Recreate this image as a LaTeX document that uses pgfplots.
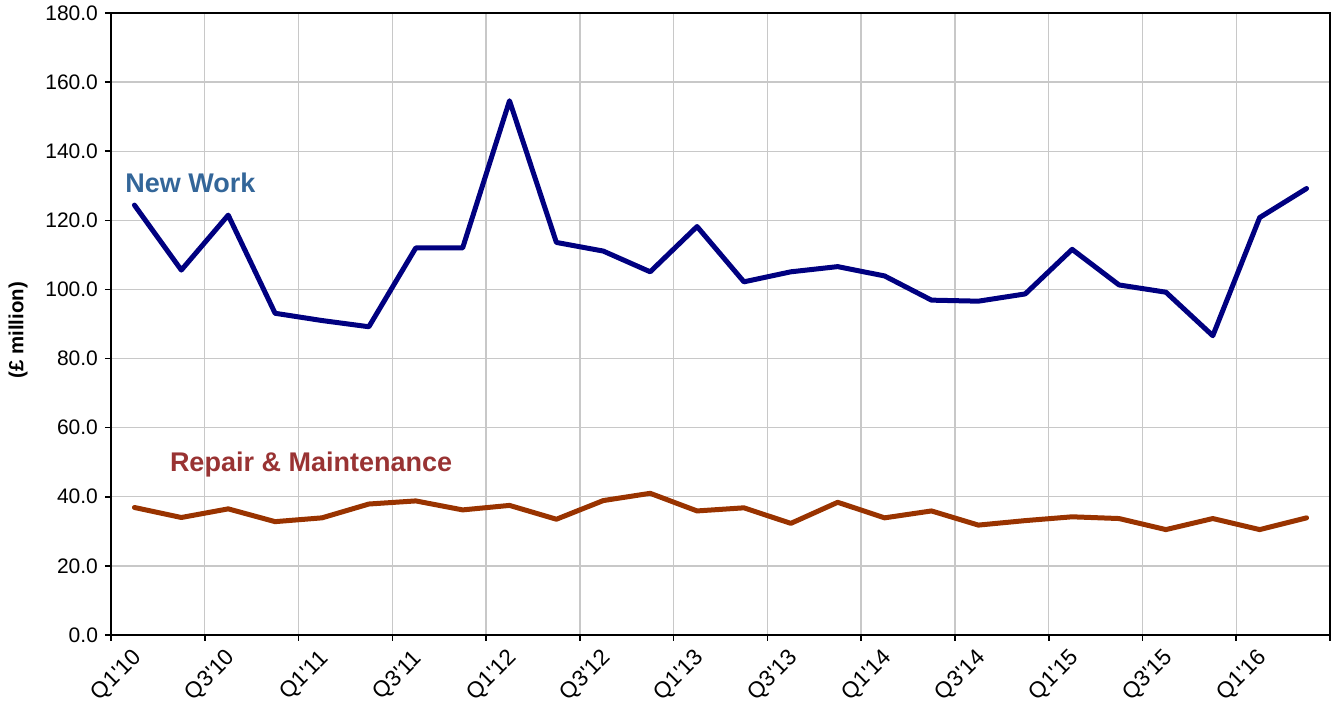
\documentclass[border=0pt]{standalone}
\usepackage{fontspec}
\setmainfont{Liberation Sans}
\newfontfamily\plainfont{Liberation Sans}
\usepackage{pgfplots}
\pgfplotsset{compat=1.18}
\definecolor{nwline}{HTML}{000080}
\definecolor{rmline}{HTML}{993300}
\definecolor{nwtext}{HTML}{336699}
\definecolor{rmtext}{HTML}{993333}
\definecolor{gridc}{HTML}{C8C8C8}
\begin{document}
\begin{tikzpicture}
\begin{axis}[
  name=ax,
  scale only axis,
  width=609.5pt, height=311pt,
  xmin=0, xmax=26, ymin=0, ymax=180,
  xtick={0,2,...,26},
  xticklabels={Q1'10,Q3'10,Q1'11,Q3'11,Q1'12,Q3'12,Q1'13,Q3'13,Q1'14,Q3'14,Q1'15,Q3'15,Q1'16,{}},
  ytick={0,20,...,180},
  xtick pos=bottom, ytick pos=left,
  tick align=outside,
  major tick length=3pt,
  tick style={black, line width=0.8pt},
  axis line style={black, line width=1pt},
  grid=major,
  major grid style={gridc, line width=0.7pt},
  yticklabel style={/pgf/number format/fixed, /pgf/number format/precision=1, /pgf/number format/fixed zerofill, /pgf/number format/assume math mode=true, font=\fontsize{10.5}{12}\selectfont},
  xticklabel style={font=\plainfont\fontsize{11.3}{13}\selectfont, rotate=45, anchor=center, xshift=-10.3pt, yshift=-14.5pt},
  ylabel={\bfseries (£ million)},
  ylabel style={font=\fontsize{10.2}{12}\selectfont, at={(axis description cs:-0.0763,0.49)}, anchor=center},
  every axis plot/.append style={line join=round, line cap=round},
]
\addplot[nwline, line width=2.5pt] coordinates {
(0.5,124.4) (1.5,105.6) (2.5,121.5) (3.5,93.1) (4.5,91.0) (5.5,89.2)
(6.5,112.0) (7.5,112.0) (8.5,154.6) (9.5,113.6) (10.5,111.1) (11.5,105.1)
(12.5,118.2) (13.5,102.2) (14.5,105.1) (15.5,106.6) (16.5,103.9) (17.5,96.9)
(18.5,96.6) (19.5,98.7) (20.5,111.6) (21.5,101.3) (22.5,99.2) (23.5,86.6)
(24.5,120.8) (25.5,129.2)};
\addplot[rmline, line width=2.5pt] coordinates {
(0.5,36.9) (1.5,34.0) (2.5,36.5) (3.5,32.8) (4.5,33.9) (5.5,37.9)
(6.5,38.8) (7.5,36.2) (8.5,37.5) (9.5,33.5) (10.5,38.9) (11.5,41.0)
(12.5,35.9) (13.5,36.8) (14.5,32.3) (15.5,38.4) (16.5,33.9) (17.5,35.9)
(18.5,31.8) (19.5,33.1) (20.5,34.2) (21.5,33.7) (22.5,30.5) (23.5,33.7)
(24.5,30.5) (25.5,33.9)};
\node[anchor=west, inner sep=0pt, text=nwtext, font=\bfseries\fontsize{13.5}{15}\selectfont] at (axis cs:0.3,130.8) {New Work};
\node[anchor=west, inner sep=0pt, text=rmtext, font=\bfseries\fontsize{13.5}{15}\selectfont] at (axis cs:1.25,49.2) {Repair \& Maintenance};
\end{axis}
\pgfresetboundingbox
\path ([xshift=-55.5pt, yshift=-34.5pt]ax.south west) rectangle ([xshift=1pt, yshift=6.5pt]ax.north east);
\end{tikzpicture}
\end{document}
